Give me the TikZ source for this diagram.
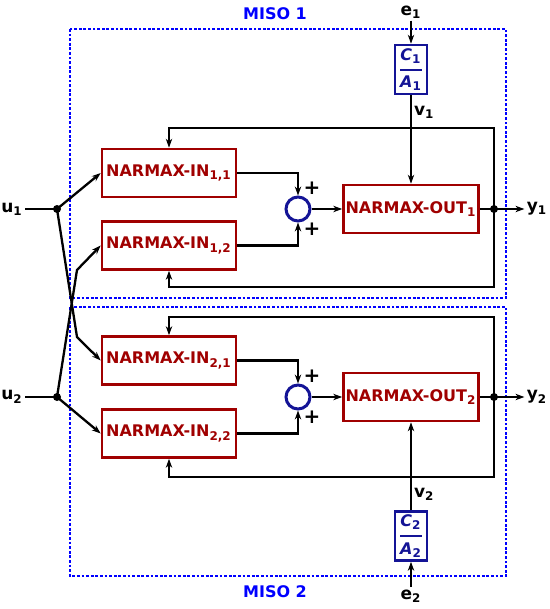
\documentclass[tikz,border=0pt]{standalone}
\usepackage{fontspec}
\setmainfont{DejaVu Sans}
\usetikzlibrary{arrows.meta,positioning}
\definecolor{boxRed}{RGB}{160,0,0}
\definecolor{filterBlue}{RGB}{20,20,150}
\definecolor{misoBlue}{RGB}{0,0,255}

\begin{document}
\begin{tikzpicture}
    [
        x=0.5pt,y=-0.5pt,
        font=\fontsize{8}{9}\selectfont\bfseries,
        Block/.style={rectangle,minimum width=67pt,minimum height=24pt,draw=boxRed,line width=1.3pt,text=boxRed,inner sep=1pt},
        Filter/.style={rectangle,minimum width=16pt,minimum height=24.5pt,draw=filterBlue,line width=1.3pt,text=filterBlue,inner sep=1pt},
        Sum/.style={circle,minimum size=12pt,draw=filterBlue,line width=1.5pt,inner sep=0pt},
        Signal/.style={inner sep=1pt,font=\fontsize{8.5}{9}\selectfont\bfseries},
        Plus/.style={inner sep=0pt,font=\fontsize{10}{10}\selectfont\bfseries},
        Dot/.style={circle,fill,inner sep=0pt,minimum size=4pt},
        Wire/.style={line width=1.15pt},
        Arrow/.style={Wire,-{Stealth[length=4.5pt,width=3.2pt]}},
        Miso/.style={draw=misoBlue,line width=1.4pt,dash pattern=on 1.4pt off 0.9pt}
    ]
    \useasboundingbox (0,0) rectangle (550,609);

    \draw[Miso] (70,29) rectangle (506,298);
    \draw[Miso] (70,307) rectangle (506,576);
    \node[text=misoBlue] (miso1) at (275,14) {MISO 1};
    \node[text=misoBlue] (miso2) at (275,592) {MISO 2};

    \node[Block] (narmaxIn11) at (169,173) {NARMAX-IN\textsubscript{1,1}};
    \node[Block] (narmaxIn12) at (169,245.5) {NARMAX-IN\textsubscript{1,2}};
    \node[Block] (narmaxIn21) at (169,360.5) {NARMAX-IN\textsubscript{2,1}};
    \node[Block] (narmaxIn22) at (169,433.5) {NARMAX-IN\textsubscript{2,2}};

    \node[Sum] (sum1) at (298,209) {};
    \node[Sum] (sum2) at (298,397) {};
    \node[Plus] (plus11) at (312,188) {+};
    \node[Plus] (plus12) at (312,229) {+};
    \node[Plus] (plus21) at (312,376) {+};
    \node[Plus] (plus22) at (312,417) {+};

    \node[Block,minimum width=67.5pt] (narmaxOut1) at (411,209) {NARMAX-OUT\textsubscript{1}};
    \node[Block,minimum width=67.5pt] (narmaxOut2) at (411,397) {NARMAX-OUT\textsubscript{2}};

    \node[Filter] (filter1) at (411,69.5) {$\displaystyle{\textit{C}\textsubscript{1}\above 0.9pt \textit{A}\textsubscript{1}}$};
    \node[Filter] (filter2) at (411,536) {$\displaystyle{\textit{C}\textsubscript{2}\above 0.9pt \textit{A}\textsubscript{2}}$};

    \node[Signal] (e1) at (411,12) {e\textsubscript{1}};
    \node[Signal] (e2) at (411,596) {e\textsubscript{2}};
    \node[Signal] (u1) at (12,209) {u\textsubscript{1}};
    \node[Signal] (u2) at (12,397) {u\textsubscript{2}};
    \node[Signal] (y1) at (537,209) {y\textsubscript{1}};
    \node[Signal] (y2) at (537,397) {y\textsubscript{2}};

    \node[Dot] (u1Dot) at (57,209) {};
    \node[Dot] (u2Dot) at (57,397) {};
    \node[Dot] (j1) at (494,209) {};
    \node[Dot] (j2) at (494,397) {};

    \coordinate (top1) at (494,128);
    \coordinate (bottom1) at (494,287);
    \coordinate (top2) at (494,317);
    \coordinate (bottom2) at (494,477);
    \coordinate (bend1) at (77,337);
    \coordinate (bend2) at (77,270);

    \draw[Wire] (u1) -- (u1Dot.center);
    \draw[Wire] (u2) -- (u2Dot.center);
    \draw[Arrow] (u1Dot.center) -- (narmaxIn11.west);
    \draw[Arrow] (u1Dot.center) -- (bend1) -- (narmaxIn21.west);
    \draw[Arrow] (u2Dot.center) -- (bend2) -- (narmaxIn12.west);
    \draw[Arrow] (u2Dot.center) -- (narmaxIn22.west);

    \draw[Arrow] (narmaxIn11.east) -| (sum1.north);
    \draw[Arrow] (narmaxIn12.east) -| (sum1.south);
    \draw[Arrow] (narmaxIn21.east) -| (sum2.north);
    \draw[Arrow] (narmaxIn22.east) -| (sum2.south);
    \draw[Arrow] (sum1) -- (narmaxOut1);
    \draw[Arrow] (sum2) -- (narmaxOut2);

    \draw[Arrow] (e1) -- (filter1);
    \draw[Arrow] (e2) -- (filter2);
    \draw[Arrow] (filter1) -- node[Signal,pos=0.19,right,text=black] (v1) {v\textsubscript{1}} (narmaxOut1);
    \draw[Arrow] (filter2) -- node[Signal,pos=0.18,right,text=black] (v2) {v\textsubscript{2}} (narmaxOut2);

    \draw[Arrow] (narmaxOut1) -- (y1);
    \draw[Arrow] (narmaxOut2) -- (y2);
    \draw[Arrow] (j1.center) -- (top1) -| (narmaxIn11.north);
    \draw[Arrow] (j1.center) -- (bottom1) -| (narmaxIn12.south);
    \draw[Arrow] (j2.center) -- (top2) -| (narmaxIn21.north);
    \draw[Arrow] (j2.center) -- (bottom2) -| (narmaxIn22.south);
\end{tikzpicture}
\end{document}
